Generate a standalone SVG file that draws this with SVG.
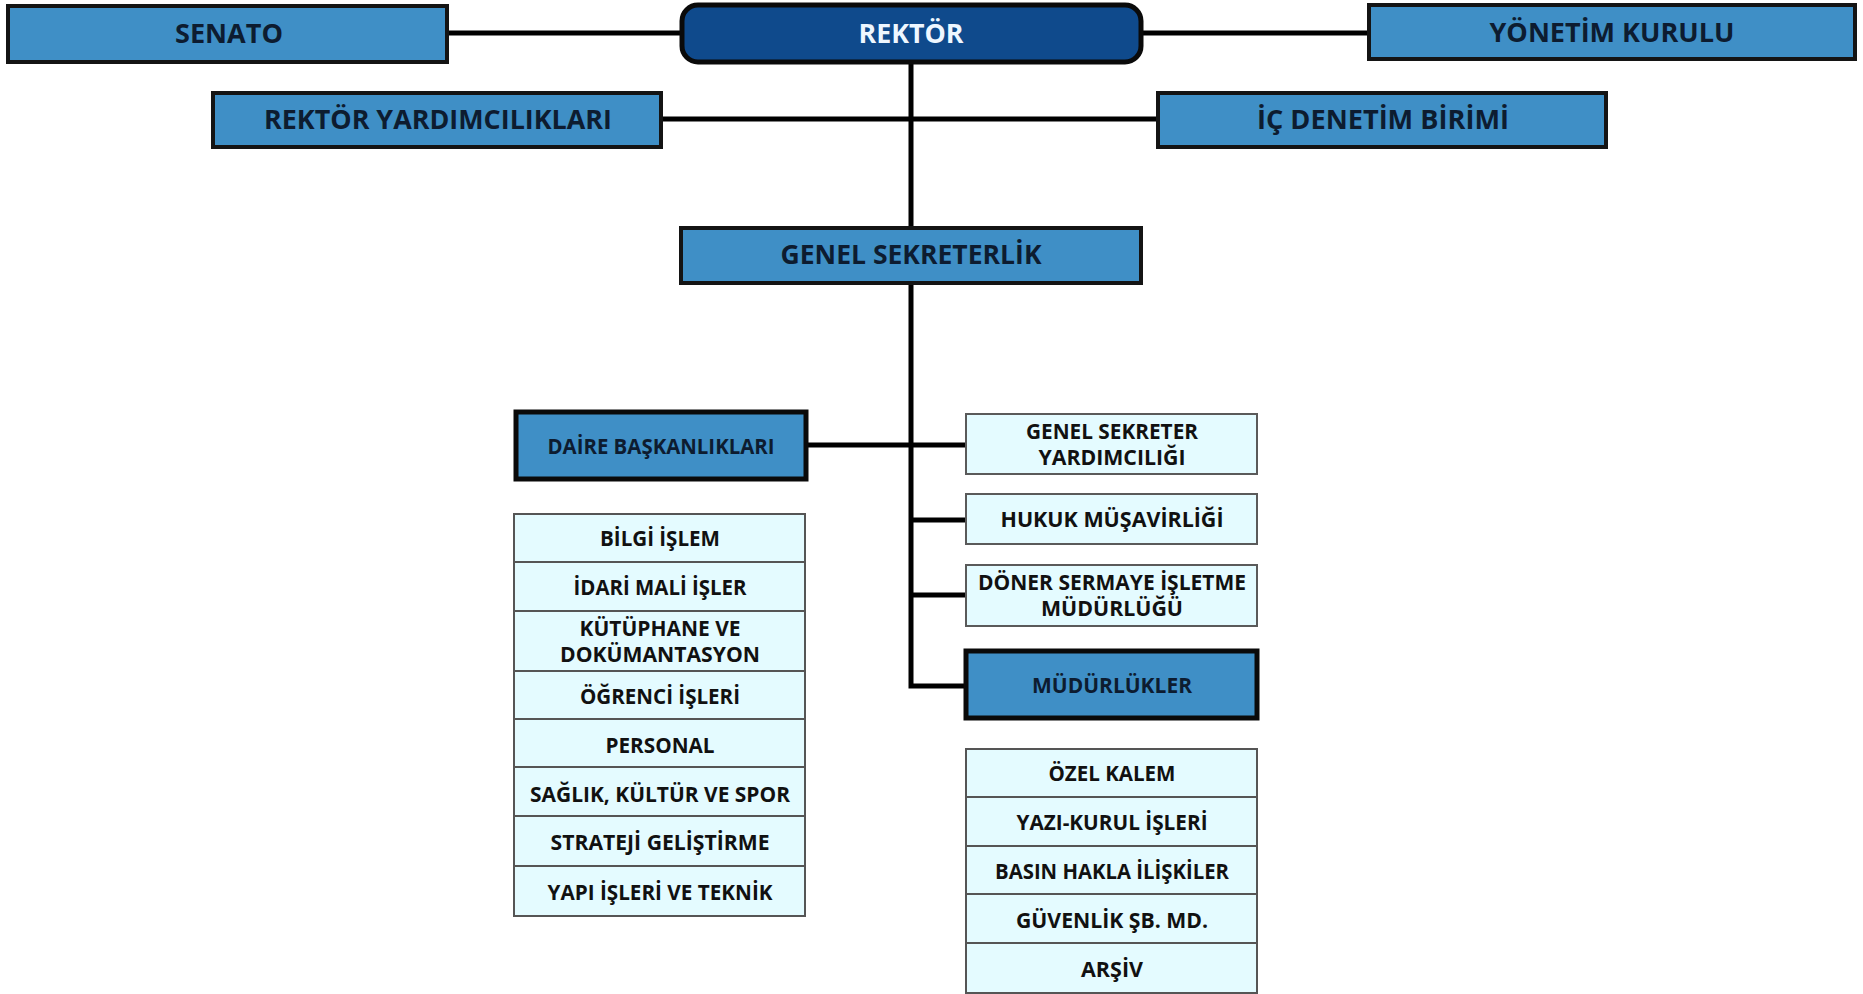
<svg xmlns="http://www.w3.org/2000/svg" width="1863" height="994" viewBox="0 0 1863 994">
<style>
.blue{fill:#3f8fc6;stroke:#141414;stroke-width:4}
.blueb{fill:#3f8fc6;stroke:#0a0a0a;stroke-width:5}
.dark{fill:#0f4a8c;stroke:#0a0a0a;stroke-width:5}
.light{fill:#e4fbff;stroke:#5a5a5a;stroke-width:2}
.cell{fill:#e4fbff;stroke:#555;stroke-width:2}
text{font-family:"Open Sans","Liberation Sans",Arial,sans-serif;font-weight:bold;text-anchor:middle}
.tb{font-size:26px;fill:#0d1c30}
.tm{font-size:22px;fill:#0d1c30}
.ts{font-size:21px;fill:#111}
.tw{font-size:26px;fill:#eef7ff}
.conn{stroke:#000;stroke-width:5;fill:none}
</style>
<rect width="1863" height="994" fill="#fff"/>
<g id="connectors">
<line class="conn" x1="447" y1="33" x2="682" y2="33"/>
<line class="conn" x1="1141" y1="33" x2="1369" y2="33"/>
<line class="conn" x1="661" y1="119" x2="1158" y2="119"/>
<line class="conn" x1="911" y1="62" x2="911" y2="228"/>
<polyline class="conn" points="911,283 911,686 966,686"/>
<line class="conn" x1="806" y1="445" x2="966" y2="445" stroke-width="6"/>
<line class="conn" x1="911" y1="520" x2="966" y2="520"/>
<line class="conn" x1="911" y1="595" x2="966" y2="595"/>
</g>
<g id="senato"><rect class="blue" x="8" y="6" width="439" height="56"/><text class="tb" x="229" y="43" textLength="108" lengthAdjust="spacingAndGlyphs">SENATO</text></g>
<g id="rektor"><rect class="dark" x="682" y="5" width="459" height="57" rx="16"/><text class="tw" x="911" y="43" textLength="105" lengthAdjust="spacingAndGlyphs">REKTÖR</text></g>
<g id="yonetim"><rect class="blue" x="1369" y="5" width="486" height="54"/><text class="tb" x="1612" y="42" textLength="245" lengthAdjust="spacingAndGlyphs">YÖNETİM KURULU</text></g>
<g id="rektor-yard"><rect class="blue" x="213" y="93" width="448" height="54"/><text class="tb" x="438" y="129" textLength="348" lengthAdjust="spacingAndGlyphs">REKTÖR YARDIMCILIKLARI</text></g>
<g id="ic-denetim"><rect class="blue" x="1158" y="93" width="448" height="54"/><text class="tb" x="1383" y="129" textLength="252" lengthAdjust="spacingAndGlyphs">İÇ DENETİM BİRİMİ</text></g>
<g id="genel-sekreterlik"><rect class="blue" x="681" y="228" width="460" height="55"/><text class="tb" x="911" y="264" textLength="261" lengthAdjust="spacingAndGlyphs">GENEL SEKRETERLİK</text></g>
<g id="daire"><rect class="blueb" x="516" y="412" width="290" height="67"/><text class="tm" x="661" y="454" textLength="227" lengthAdjust="spacingAndGlyphs">DAİRE BAŞKANLIKLARI</text></g>
<g id="gsy"><rect class="light" x="966" y="414" width="291" height="60"/><text class="ts" x="1112" y="439" textLength="172" lengthAdjust="spacingAndGlyphs">GENEL SEKRETER</text><text class="ts" x="1112" y="465" textLength="147" lengthAdjust="spacingAndGlyphs">YARDIMCILIĞI</text></g>
<g id="hukuk"><rect class="light" x="966" y="494" width="291" height="50"/><text class="ts" x="1112" y="527" textLength="223" lengthAdjust="spacingAndGlyphs">HUKUK MÜŞAVİRLİĞİ</text></g>
<g id="doner"><rect class="light" x="966" y="565" width="291" height="61"/><text class="ts" x="1112" y="590" textLength="268" lengthAdjust="spacingAndGlyphs">DÖNER SERMAYE İŞLETME</text><text class="ts" x="1112" y="616" textLength="142" lengthAdjust="spacingAndGlyphs">MÜDÜRLÜĞÜ</text></g>
<g id="mudurlukler"><rect class="blueb" x="966" y="651" width="291" height="67"/><text class="tm" x="1112" y="693" textLength="160" lengthAdjust="spacingAndGlyphs">MÜDÜRLÜKLER</text></g>
<g id="daire-list">
<rect class="cell" x="514" y="514" width="291" height="48"/><text class="ts" x="660" y="546" textLength="120" lengthAdjust="spacingAndGlyphs">BİLGİ İŞLEM</text>
<rect class="cell" x="514" y="562" width="291" height="49"/><text class="ts" x="660" y="595" textLength="173" lengthAdjust="spacingAndGlyphs">İDARİ MALİ İŞLER</text>
<rect class="cell" x="514" y="611" width="291" height="60"/><text class="ts" x="660" y="636" textLength="161" lengthAdjust="spacingAndGlyphs">KÜTÜPHANE VE</text><text class="ts" x="660" y="662" textLength="200" lengthAdjust="spacingAndGlyphs">DOKÜMANTASYON</text>
<rect class="cell" x="514" y="671" width="291" height="48"/><text class="ts" x="660" y="704" textLength="160" lengthAdjust="spacingAndGlyphs">ÖĞRENCİ İŞLERİ</text>
<rect class="cell" x="514" y="719" width="291" height="48"/><text class="ts" x="660" y="753" textLength="109" lengthAdjust="spacingAndGlyphs">PERSONAL</text>
<rect class="cell" x="514" y="767" width="291" height="49"/><text class="ts" x="660" y="802" textLength="260" lengthAdjust="spacingAndGlyphs">SAĞLIK, KÜLTÜR VE SPOR</text>
<rect class="cell" x="514" y="816" width="291" height="50"/><text class="ts" x="660" y="850" textLength="219" lengthAdjust="spacingAndGlyphs">STRATEJİ GELİŞTİRME</text>
<rect class="cell" x="514" y="866" width="291" height="50"/><text class="ts" x="660" y="900" textLength="225" lengthAdjust="spacingAndGlyphs">YAPI İŞLERİ VE TEKNİK</text>
</g>
<g id="mudurluk-list">
<rect class="cell" x="966" y="749" width="291" height="48"/><text class="ts" x="1112" y="781" textLength="127" lengthAdjust="spacingAndGlyphs">ÖZEL KALEM</text>
<rect class="cell" x="966" y="797" width="291" height="49"/><text class="ts" x="1112" y="830" textLength="191" lengthAdjust="spacingAndGlyphs">YAZI-KURUL İŞLERİ</text>
<rect class="cell" x="966" y="846" width="291" height="48"/><text class="ts" x="1112" y="879" textLength="234" lengthAdjust="spacingAndGlyphs">BASIN HAKLA İLİŞKİLER</text>
<rect class="cell" x="966" y="894" width="291" height="49"/><text class="ts" x="1112" y="928" textLength="192" lengthAdjust="spacingAndGlyphs">GÜVENLİK ŞB. MD.</text>
<rect class="cell" x="966" y="943" width="291" height="50"/><text class="ts" x="1112" y="977" textLength="62" lengthAdjust="spacingAndGlyphs">ARŞİV</text>
</g>
</svg>
